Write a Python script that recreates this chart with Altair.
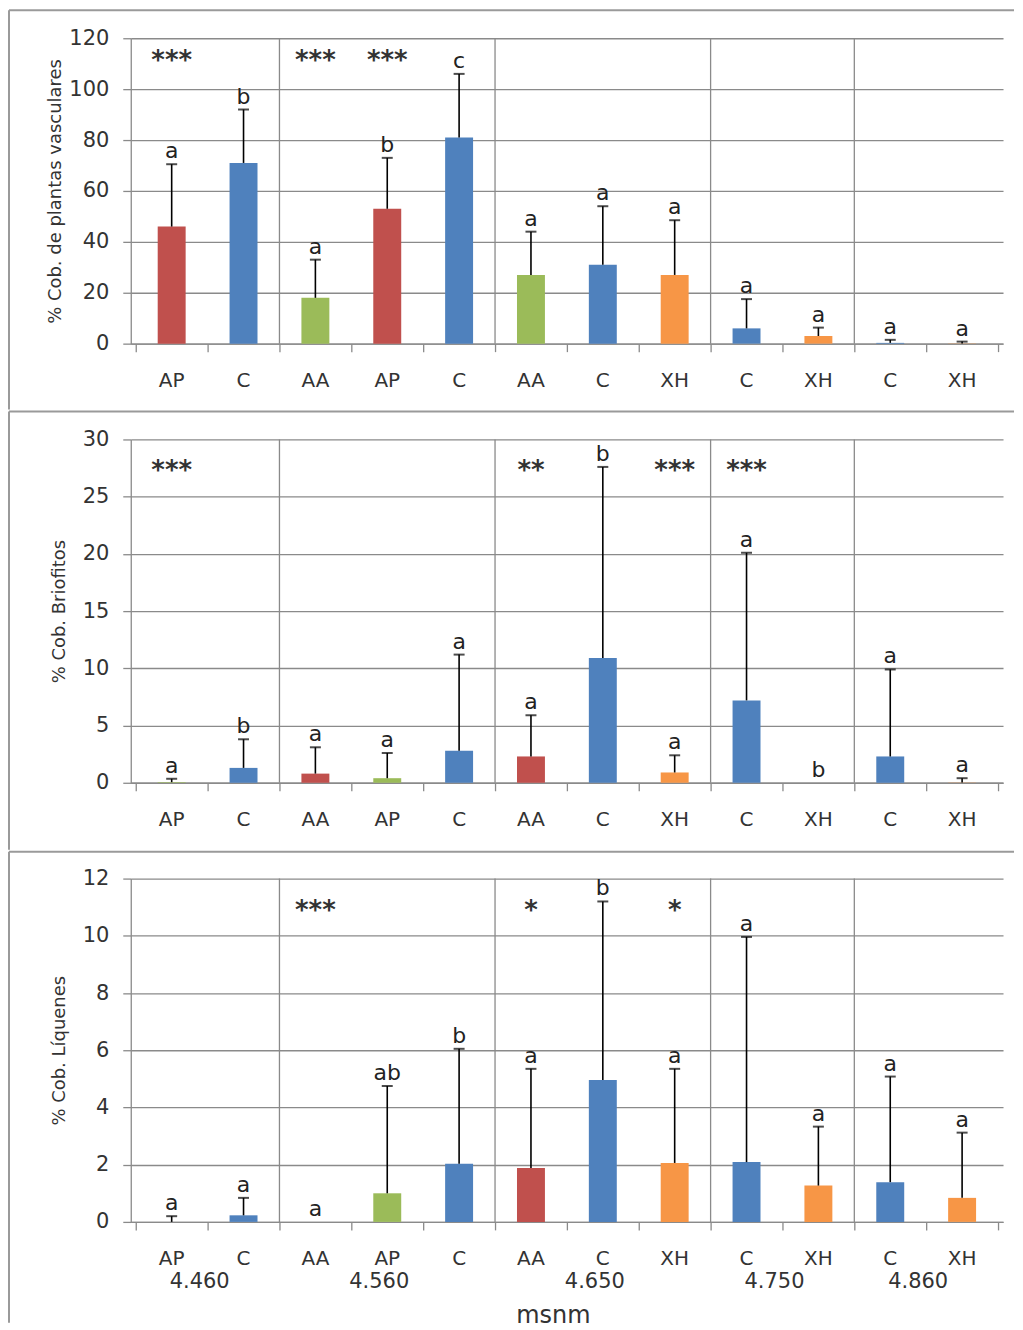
import altair as alt
import pandas as pd

# ---------------- data ----------------
trat = ["AP", "C", "AA", "AP", "C", "AA", "C", "XH", "C", "XH", "C", "XH"]
altitudes = ["4.460", "4.560", "4.650", "4.750", "4.860"]
grupo_inicio = [0, 2, 5, 8, 10]
grupo_fin = [2, 5, 8, 10, 12]

# % Cob. de plantas vasculares
vasc_media = [46, 71, 18, 53, 81, 27, 31, 27, 6, 3, 0.3, 0.1]
vasc_sup = [70.5, 92, 33, 73, 106, 44, 54, 48.5, 17.5, 6.3, 1.5, 0.8]
vasc_letra = ["a", "b", "a", "b", "c", "a", "a", "a", "a", "a", "a", "a"]
vasc_sig = ["***", "", "***", "***", "", "", "", "", "", "", "", ""]

# % Cob. Briofitos
brio_media = [0.05, 1.3, 0.8, 0.4, 2.8, 2.3, 10.9, 0.9, 7.2, 0, 2.3, 0.02]
brio_sup = [0.35, 3.8, 3.1, 2.6, 11.2, 5.9, 27.6, 2.4, 20.1, None, 9.9, 0.4]
brio_letra = ["a", "b", "a", "a", "a", "a", "b", "a", "a", "b", "a", "a"]
brio_sig = ["***", "", "", "", "", "**", "", "***", "***", "", "", ""]

# % Cob. Líquenes
liq_media = [0, 0.23, 0, 1.0, 2.03, 1.88, 4.96, 2.06, 2.09, 1.27, 1.39, 0.84]
liq_sup = [0.2, 0.84, None, 4.75, 6.05, 5.35, 11.2, 5.35, 9.96, 3.33, 5.08, 3.12]
liq_letra = ["a", "a", "a", "ab", "b", "a", "b", "a", "a", "a", "a", "a"]
liq_sig = ["", "", "***", "", "", "*", "", "*", "", "", "", ""]

ROJO, AZUL, VERDE, NARANJA = "#C0504D", "#4F81BD", "#9BBB59", "#F79646"
GRIS = "#8a8a8a"
FONT = "DejaVu Sans"
W = 874
LEFT = 122
RIGHT = 885


def panel(media, sup, letra, sig, ymax, ystep, ytitle, dom, rng, h,
          top, bottom, star_y, tpad, last=False):
    n = len(trat)
    df = pd.DataFrame({
        "pos": [k + 0.5 for k in range(n)],
        "trat": trat,
        "media": media,
        "sup": sup,
        "letra": letra,
        "sig": sig,
    })
    xs = alt.Scale(domain=[0, n], nice=False, zero=False)
    ys = alt.Scale(domain=[0, ymax], nice=False)

    x_kw = dict(
        values=list(range(n + 1)),
        labels=False,
        tickSize=8, tickColor=GRIS, tickWidth=1.3,
        domainColor=GRIS, domainWidth=1.3,
        grid=False,
    )
    if last:
        x_kw.update(title="msnm", titleFont=FONT, titleFontSize=24,
                    titleFontWeight="normal", titleColor="#333333",
                    titlePadding=73, titleX=W / 2 - 14)
    else:
        x_kw.update(title=None)
    x_axis = alt.Axis(**x_kw)
    y_axis = alt.Axis(
        values=list(range(0, ymax + 1, ystep)),
        format="d",
        labelFont=FONT, labelFontSize=21, labelColor="#333333",
        labelPadding=14,
        tickSize=8, tickColor=GRIS, tickWidth=1.3,
        domainColor=GRIS, domainWidth=1.3,
        grid=True, gridColor=GRIS, gridWidth=1.3,
        title=ytitle, titleFont=FONT, titleFontSize=18,
        titleFontWeight="normal", titleColor="#333333", titlePadding=tpad,
    )

    base = alt.Chart(df)

    bars = base.mark_bar(size=28).encode(
        x=alt.X("pos:Q", scale=xs, axis=x_axis),
        y=alt.Y("media:Q", scale=ys, axis=y_axis),
        color=alt.Color("trat:N", scale=alt.Scale(domain=dom, range=rng), legend=None),
    )

    err = base.transform_filter("isValid(datum.sup)").mark_rule(
        color="black", strokeWidth=1.6
    ).encode(x="pos:Q", y="media:Q", y2="sup:Q")

    caps = base.transform_filter("isValid(datum.sup)").mark_tick(
        orient="horizontal", size=11, thickness=2, color="black"
    ).encode(x="pos:Q", y="sup:Q")

    letras = base.transform_calculate(
        ly="isValid(datum.sup) ? datum.sup : datum.media"
    ).mark_text(
        font=FONT, fontSize=22, color="#222222", baseline="alphabetic", dy=-6
    ).encode(x="pos:Q", y="ly:Q", text="letra:N")

    stars = base.transform_filter("datum.sig != ''").mark_text(
        font=FONT, fontSize=26, fontWeight="bold", color="#333333",
        baseline="middle", dy=6
    ).encode(x="pos:Q", y=alt.datum(star_y), text="sig:N")

    cats = base.mark_text(
        font=FONT, fontSize=20, color="#333333", baseline="middle"
    ).encode(x="pos:Q", y=alt.value(h + 37), text="trat:N")

    sep = alt.Chart(pd.DataFrame({"b": grupo_inicio[1:]})).mark_rule(
        color=GRIS, strokeWidth=1.3
    ).encode(x=alt.X("b:Q", scale=xs), y=alt.value(0), y2=alt.value(h))

    one = pd.DataFrame({"k": [0]})
    frame_top = alt.Chart(one).mark_rule(color="#9a9a9a", strokeWidth=2).encode(
        x=alt.value(-LEFT), x2=alt.value(RIGHT), y=alt.value(-top))
    frame_left = alt.Chart(one).mark_rule(color="#9a9a9a", strokeWidth=2).encode(
        x=alt.value(-LEFT), y=alt.value(-top), y2=alt.value(h + bottom))

    layers = [frame_top, frame_left, sep, bars, err, caps, letras, stars, cats]

    if last:
        gdf = pd.DataFrame({
            "alt": altitudes,
            "c": [(a + b) / 2 for a, b in zip(grupo_inicio, grupo_fin)],
        })
        grp = alt.Chart(gdf).mark_text(
            font=FONT, fontSize=21, color="#333333", baseline="middle", dx=-8
        ).encode(x=alt.X("c:Q", scale=xs), y=alt.value(h + 60), text="alt:N")
        layers.append(grp)

    return alt.layer(*layers).properties(width=W, height=h)


p1 = panel(vasc_media, vasc_sup, vasc_letra, vasc_sig, 120, 20,
           "% Cob. de plantas vasculares", ["AP", "C", "AA", "XH"],
           [ROJO, AZUL, VERDE, NARANJA], 306, 28, 66, 113.3, 4)
p2 = panel(brio_media, brio_sup, brio_letra, brio_sig, 30, 5,
           "% Cob. Briofitos", ["AA", "AP", "C", "XH"],
           [ROJO, VERDE, AZUL, NARANJA], 344, 28, 67, 27.8, 14)
p3 = panel(liq_media, liq_sup, liq_letra, liq_sig, 12, 2,
           "% Cob. Líquenes", ["AA", "AP", "C", "XH"],
           [ROJO, VERDE, AZUL, NARANJA], 344, 27, 101, 11.07, 14,
           last=True)

chart = alt.vconcat(p1, p2, p3, spacing=0).resolve_scale(
    color="independent", x="independent", y="independent"
).properties(padding=0, background="white").configure_view(stroke=None)

chart.save("out.html", embed_options={"renderer": "svg", "actions": False})
